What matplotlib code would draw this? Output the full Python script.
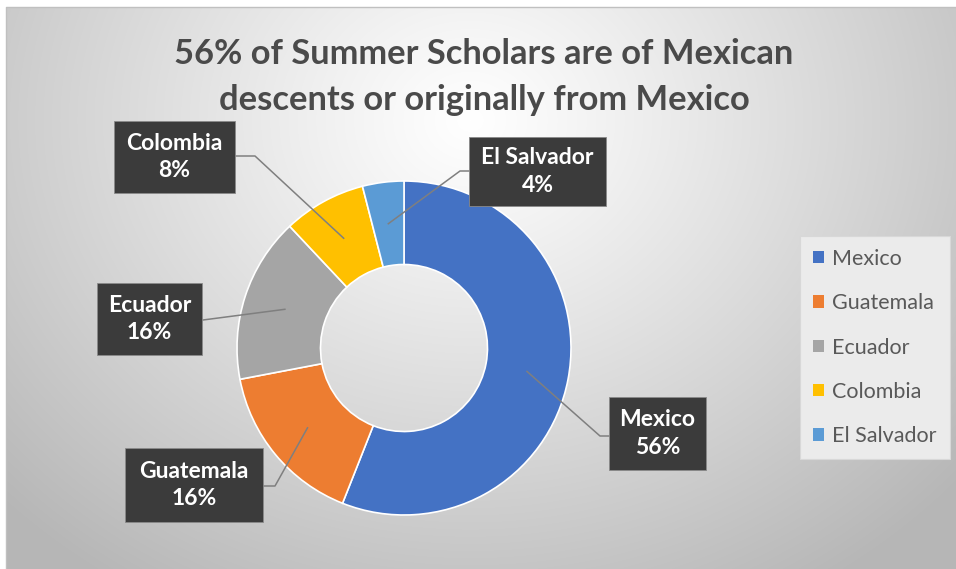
import numpy as np
import matplotlib
matplotlib.use("Agg")
import matplotlib.pyplot as plt
import matplotlib.patches as mpatches

plt.rcParams['font.family'] = ['Lato', 'DejaVu Sans']

# survey shares (percent of scholars)
countries = ["Mexico", "Guatemala", "Ecuador", "Colombia", "El Salvador"]
shares = [56, 16, 16, 8, 4]
colors = ["#4472C4", "#ED7D31", "#A5A5A5", "#FFC000", "#5B9BD5"]
title_lines = ["56% of Summer Scholars are of Mexican",
               "descents or originally from Mexico"]

W, H = 956, 569


def P(x, y):
    # pixel coords (origin top-left) -> data coords (origin bottom-left)
    return x, H - y


# label boxes (left, top, right, bottom) and leader elbow, in pixels
label_boxes = {
    "Mexico": ((609, 397, 706, 470), (600, 436), (609, 436)),
    "Guatemala": ((125, 448, 263, 522), (275, 486), (263, 486)),
    "Ecuador": ((97, 283, 202, 355), (203, 320), (202, 320)),
    "Colombia": ((114, 121, 235, 193), (255, 156), (235, 156)),
    "El Salvador": ((469, 137, 606, 206), (460, 171), (469, 171)),
}

fig = plt.figure(figsize=(W / 100, H / 100), dpi=100)
ax = fig.add_axes([0, 0, 1, 1])

# radial gradient background
yy, xx = np.mgrid[0:H, 0:W]
d = np.sqrt(((xx - 470) / 560.0) ** 2 + ((yy - 120) / 480.0) ** 2)
shade = 255 - 62 * np.clip(d, 0, 1.15) ** 1.1
bg = np.dstack([shade, shade, shade]) / 255.0
bg[:7, :] = 1.0
bg[:, :6] = 1.0
ax.imshow(bg, extent=(0, W, 0, H), origin="upper", zorder=0,
          interpolation="bilinear")
ax.plot([6, 6, W], [0, H - 7, H - 7], color="#c0c0c0", lw=1, zorder=1)

# donut
cx, cy = P(404, 348)
R = 167
wedges, _ = ax.pie(shares, colors=colors, startangle=90, counterclock=False,
                   radius=R, center=(cx, cy),
                   wedgeprops=dict(width=R * 0.5, edgecolor="white",
                                   linewidth=1.2))
for w in wedges:
    w.set_zorder(2)

# data labels with leader lines
for w, name, val in zip(wedges, countries, shares):
    mid = np.deg2rad((w.theta1 + w.theta2) / 2)
    ax_x = cx + 0.75 * R * np.cos(mid)
    ax_y = cy + 0.75 * R * np.sin(mid)
    (x0, y0, x1, y1), elbow, join = label_boxes[name]
    ex, ey = P(*elbow)
    jx, jy = P(*join)
    ax.plot([ax_x, ex, jx], [ax_y, ey, jy], color="#7f7f7f", lw=1.1,
            zorder=3)
    bx0, by1 = P(x0, y0)
    bx1, by0 = P(x1, y1)
    ax.add_patch(mpatches.Rectangle((bx0, by0), bx1 - bx0, by1 - by0,
                                    fc="#3b3b3b", ec="#8a8a8a", lw=0.6,
                                    zorder=4))
    ax.text((bx0 + bx1) / 2, (by0 + by1) / 2, f"{name}\n{val}%",
            ha="center", va="center", color="white", fontsize=16.5,
            fontweight="bold", linespacing=1.4, zorder=5)

# title
for i, line in enumerate(title_lines):
    tx, ty = P(484, 54 + 46 * i)
    ax.text(tx, ty, line, ha="center", va="center", fontsize=24.8,
            fontweight="bold", color="#4a4a4a", zorder=5)

leg = ax.legend(wedges, countries, loc="upper left",
                bbox_to_anchor=P(800, 236), bbox_transform=ax.transData,
                borderaxespad=0, fontsize=15.5, labelcolor="#595959",
                handlelength=0.5, handleheight=0.5, handletextpad=0.4,
                labelspacing=1.13, borderpad=0.6, frameon=True,
                fancybox=False, edgecolor="#d8d8d8", facecolor="#ebebeb",
                framealpha=1)
leg.get_frame().set_linewidth(0.8)
for h in leg.legend_handles:
    h.set_edgecolor("none")

ax.set_xlim(0, W)
ax.set_ylim(0, H)
ax.set_aspect("auto")
ax.axis("off")

fig.savefig("out.png", dpi=100)
